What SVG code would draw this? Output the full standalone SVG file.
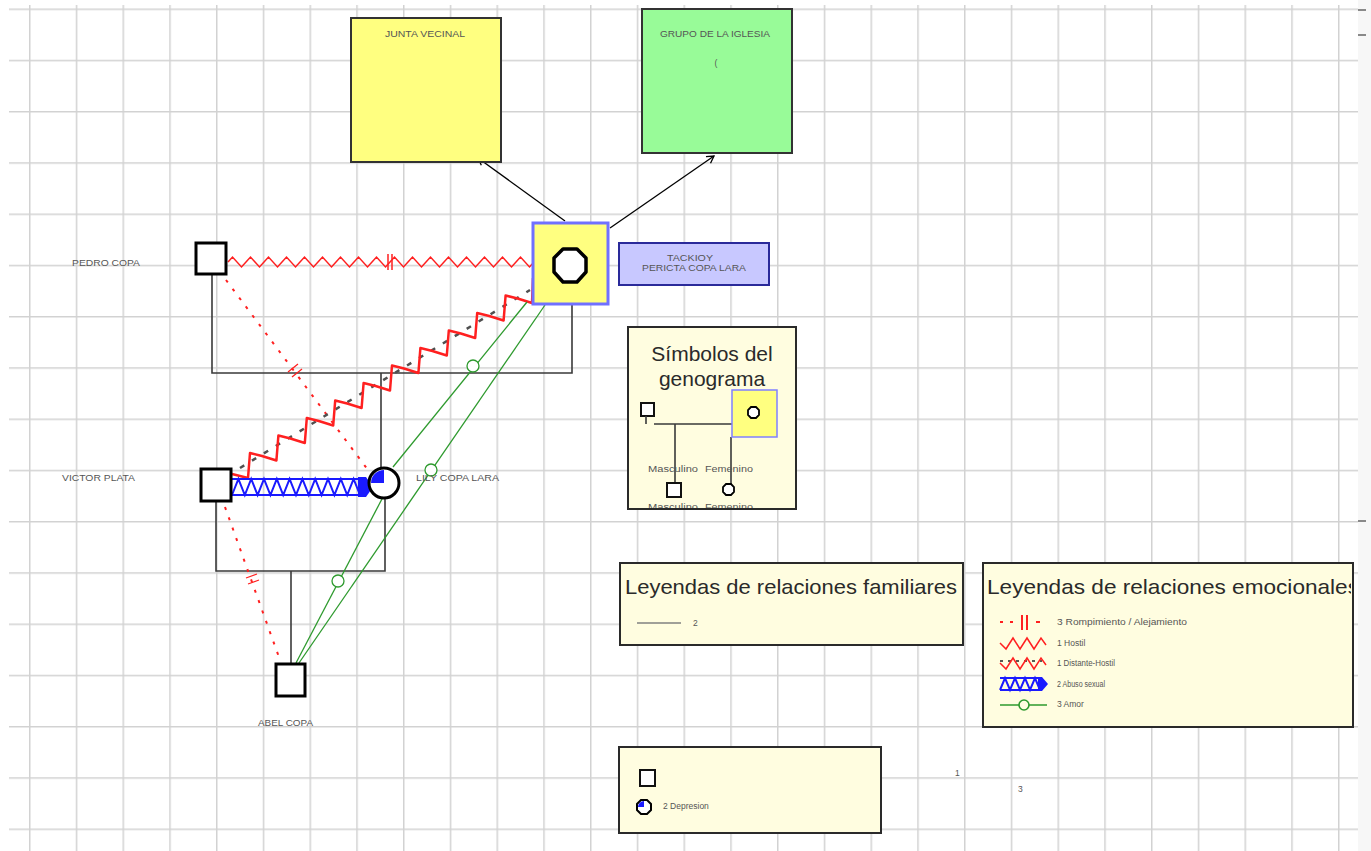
<svg xmlns="http://www.w3.org/2000/svg" width="1371" height="851" viewBox="0 0 1371 851">
<style>
.lbl{font-family:"Liberation Sans",Arial,sans-serif;font-size:8.5px;fill:#555}
.ttl{font-family:"Liberation Sans",Arial,sans-serif;font-size:21px;fill:#2a2a2a}
.fam{stroke:#3a3a3a;stroke-width:1.6;fill:none}
.node{stroke:#000;stroke-width:3;fill:#fff}
.red{stroke:#ff2020;fill:none}
.grn{stroke:#2e9a2e;stroke-width:1.3;fill:none}
.blu{stroke:#1a1aff;stroke-width:2;fill:none}
.leg{fill:#fffde0;stroke:#2a2a2a;stroke-width:2}
</style>
<defs>
<pattern id="grid" patternUnits="userSpaceOnUse" x="29" y="8.5" width="46.75" height="51.25">
<path d="M0.75,0V51.25M0,0.75H46.75" stroke="#d2d2d2" stroke-width="1.5" fill="none"/>
</pattern>
<marker id="arr" markerWidth="10" markerHeight="10" refX="8" refY="5" orient="auto" markerUnits="userSpaceOnUse">
<path d="M1,1L8,5L1,9" fill="none" stroke="#000" stroke-width="1.3"/>
</marker>
<clipPath id="clipE"><rect x="984" y="564" width="367" height="162"/></clipPath>
<clipPath id="clipS"><rect x="629" y="328" width="166" height="180"/></clipPath>
</defs>
<rect width="1371" height="851" fill="#fff"/>
<rect x="9" y="5" width="1349" height="846" fill="url(#grid)"/>
<rect x="1358" y="0" width="13" height="851" fill="#f7f7f7"/>
<path d="M1358,10H1366M1358,35H1366M1358,521H1366" stroke="#666" stroke-width="1.5"/>

<g id="connectors">
<!-- family lines -->
<path class="fam" d="M212,274V373H572V305"/>
<path class="fam" d="M381,373V467"/>
<path class="fam" d="M216,502V571H385V497"/>
<path class="fam" d="M291,571V663"/>
<!-- arrows to community boxes -->
<path d="M565,221L478,158" stroke="#000" stroke-width="1.3" fill="none" marker-end="url(#arr)"/>
<path d="M610,228L714,156" stroke="#000" stroke-width="1.3" fill="none" marker-end="url(#arr)"/>
<!-- Pedro - center hostile -->
<path class="red" stroke-width="1.5" d="M228,262l4.5,-5 9,10 4.5,-5 4.5,-5 9,10 4.5,-5 4.5,-5 9,10 4.5,-5 4.5,-5 9,10 4.5,-5 4.5,-5 9,10 4.5,-5 4.5,-5 9,10 4.5,-5 4.5,-5 9,10 4.5,-5 4.5,-5 9,10 4.5,-5 4.5,-5 9,10 4.5,-5 4.5,-5 9,10 4.5,-5 4.5,-5 9,10 4.5,-5 4.5,-5 9,10 4.5,-5 4.5,-5 9,10 4.5,-5 4.5,-5 9,10 4.5,-5 4.5,-5 9,10 4.5,-5 4.5,-5 9,10 4.5,-5 4.5,-5 9,10 4.5,-5 4.5,-5"/>
<path class="red" stroke-width="1.5" d="M388,254V270M392,254V270"/>
<!-- Pedro - Lily rompimiento -->
<path class="red" stroke-width="2" stroke-dasharray="3 8" d="M226,280L368,470"/>
<path class="red" stroke-width="1.3" d="M288,372L298,364M292,377L302,369"/>
<!-- Victor - Abel rompimiento -->
<path class="red" stroke-width="2" stroke-dasharray="3 8" d="M225,507L280,660"/>
<path class="red" stroke-width="1.3" d="M246,578L257,574M248,584L259,580"/>
<!-- Victor - center distante hostil -->
<path d="M240,468L530,290" stroke="#505050" stroke-width="2.5" stroke-dasharray="5 9" fill="none"/>
<path class="red" stroke-width="2.5" stroke-linejoin="round" d="M232,474L248,478L250,453L262,456L276.4,460.5L278.4,435.5L290.4,438.5L304.8,443L306.8,418L318.8,421L333.2,425.5L335.2,400.5L347.2,403.5L361.6,408L363.6,383L375.6,386L390,390.5L392,365.5L404,368.5L418.4,373L420.4,348L432.4,351L446.8,355.5L448.8,330.5L460.8,333.5L475.2,338L477.2,313L489.2,316L503.6,320.5L505.6,295.5L517.6,298.5L532,303L533,278"/>
<!-- Victor - Lily abuso -->
<path class="blu" d="M232,479H360M232,495H360"/>
<path class="blu" stroke-width="1.5" d="M232,495l6.4,-16 6.4,16 6.4,-16 6.4,16 6.4,-16 6.4,16 6.4,-16 6.4,16 6.4,-16 6.4,16 6.4,-16 6.4,16 6.4,-16 6.4,16 6.4,-16 6.4,16 6.4,-16 6.4,16 6.4,-16 6.4,16"/>
<polygon points="358,477 366,477 373,487 366,497 358,497" fill="#1a1aff"/>
<!-- love lines -->
<path class="grn" d="M393,467L527,302"/>
<circle cx="473" cy="366" r="6" fill="#fff" stroke="#2e9a2e" stroke-width="1.3"/>
<path class="grn" d="M299,663L545,305"/>
<circle cx="431" cy="470" r="6" fill="#fff" stroke="#2e9a2e" stroke-width="1.3"/>
<path class="grn" d="M296,663L383,497"/>
<circle cx="338" cy="581" r="6" fill="#fff" stroke="#2e9a2e" stroke-width="1.3"/>
</g>

<g id="junta-vecinal">
<rect x="351" y="18" width="150" height="144" fill="#ffff80" stroke="#333" stroke-width="2"/>
<text class="lbl" x="425" y="37" text-anchor="middle" font-size="8" textLength="80" lengthAdjust="spacingAndGlyphs">JUNTA VECINAL</text>
</g>
<g id="grupo-iglesia">
<rect x="642" y="9" width="150" height="144" fill="#98fb98" stroke="#333" stroke-width="2"/>
<text class="lbl" x="715" y="37" text-anchor="middle" font-size="8" textLength="110" lengthAdjust="spacingAndGlyphs">GRUPO DE LA IGLESIA</text>
<text class="lbl" x="716" y="66" text-anchor="middle" font-size="8">(</text>
</g>

<g id="pericta">
<rect x="533" y="223" width="75" height="81" fill="#ffff80" stroke="#7070ff" stroke-width="3"/>
<polygon points="563,249 577,249 586,258 586,272 577,282 563,282 554,272 554,258" fill="#fff" stroke="#000" stroke-width="3.5" stroke-linejoin="round"/>
<rect x="619" y="243" width="150" height="42" fill="#c8c8ff" stroke="#2a2a9a" stroke-width="2"/>
<text class="lbl" x="694" y="271" text-anchor="middle" textLength="104" lengthAdjust="spacingAndGlyphs">PERICTA COPA LARA</text>
<text class="lbl" x="690" y="261" text-anchor="middle" font-size="7" textLength="46" lengthAdjust="spacingAndGlyphs">TACKIOY</text>
</g>

<g id="pedro-copa">
<rect x="196" y="243" width="30" height="31" class="node"/>
<text class="lbl" x="72" y="266" textLength="68" lengthAdjust="spacingAndGlyphs">PEDRO COPA</text>
</g>
<g id="victor-plata">
<rect x="201" y="469" width="30" height="32" class="node"/>
<text class="lbl" x="62" y="481" textLength="73" lengthAdjust="spacingAndGlyphs">VICTOR PLATA</text>
</g>
<g id="lily-copa-lara">
<circle cx="384" cy="483" r="15" class="node"/>
<path d="M384,483V470A13,13 0 0 0 371,483Z" fill="#1a1aff"/>
<text class="lbl" x="416" y="481" textLength="83" lengthAdjust="spacingAndGlyphs">LILY COPA LARA</text>
</g>
<g id="abel-copa">
<rect x="276" y="664" width="29" height="32" class="node"/>
<text class="lbl" x="258" y="726" textLength="55" lengthAdjust="spacingAndGlyphs">ABEL COPA</text>
</g>

<g id="simbolos">
<rect x="628" y="327" width="168" height="182" class="leg"/>
<text class="ttl" x="712" y="361" text-anchor="middle">Símbolos del</text>
<text class="ttl" x="712" y="386" text-anchor="middle">genograma</text>
<rect x="641" y="403" width="13" height="13" fill="#fff" stroke="#111" stroke-width="2"/>
<path d="M646,416V424M654,424H732M675,424V484M731,437V484" stroke="#3a3a3a" stroke-width="1.6" fill="none"/>
<rect x="732" y="390" width="45" height="47" fill="#ffff80" stroke="#8080ff" stroke-width="1.5"/>
<polygon points="751,407 756,407 759,410 759,415 756,418 751,418 748,415 748,410" fill="#fff" stroke="#000" stroke-width="1.8"/>
<rect x="667" y="483" width="14" height="14" fill="#fff" stroke="#111" stroke-width="2"/>
<polygon points="726,484 731,484 734,487 734,492 731,495 726,495 723,492 723,487" fill="#fff" stroke="#000" stroke-width="1.8"/>
<g clip-path="url(#clipS)">
<text class="lbl" x="648" y="472" font-size="8" textLength="50" lengthAdjust="spacingAndGlyphs">Masculino</text>
<text class="lbl" x="705" y="472" font-size="8" textLength="48" lengthAdjust="spacingAndGlyphs">Femenino</text>
<text class="lbl" x="648" y="510" font-size="8" textLength="50" lengthAdjust="spacingAndGlyphs">Masculino</text>
<text class="lbl" x="705" y="510" font-size="8" textLength="48" lengthAdjust="spacingAndGlyphs">Femenino</text>
</g>
</g>

<g id="leyenda-familiares">
<rect x="620" y="563" width="343" height="82" class="leg"/>
<text class="ttl" x="625" y="594" textLength="332" lengthAdjust="spacingAndGlyphs">Leyendas de relaciones familiares</text>
<path d="M637,623H681" stroke="#808080" stroke-width="1.5"/>
<text class="lbl" x="693" y="626">2</text>
</g>

<g id="leyenda-emocionales">
<rect x="983" y="563" width="370" height="164" class="leg"/>
<g clip-path="url(#clipE)">
<text class="ttl" x="987" y="594" textLength="372" lengthAdjust="spacingAndGlyphs">Leyendas de relaciones emocionales</text>
</g>
<path class="red" stroke-width="2" d="M1000,622H1003M1010,622H1013M1036,622H1040M1022,615V630M1027,615V630"/>
<text class="lbl" x="1057" y="625" textLength="130" lengthAdjust="spacingAndGlyphs">3 Rompimiento / Alejamiento</text>
<path class="red" stroke-width="1.5" d="M1000,643l6,6 7,-11 7,11 7,-11 7,11 7,-11 5,7"/>
<text class="lbl" x="1057" y="646">1 Hostil</text>
<path d="M1000,661H1042" stroke="#222" stroke-width="1.5" stroke-dasharray="3 5"/>
<path class="red" stroke-width="1.5" d="M1000,663l6,6 7,-11 7,11 7,-11 7,11 7,-11 5,7"/>
<text class="lbl" x="1057" y="666" textLength="58" lengthAdjust="spacingAndGlyphs">1 Distante-Hostil</text>
<path class="blu" d="M1000,678H1040M1000,690H1040"/>
<path class="blu" stroke-width="1.3" d="M1000,690l5,-12 5,12 5,-12 5,12 5,-12 5,12 5,-12 5,12"/>
<polygon points="1038,677 1042,677 1048,684 1042,691 1038,691" fill="#1a1aff"/>
<text class="lbl" x="1057" y="687" textLength="48" lengthAdjust="spacingAndGlyphs">2 Abuso sexual</text>
<path class="grn" stroke-width="1.6" d="M1000,705H1047"/>
<circle cx="1024" cy="705" r="5" fill="#fffde0" stroke="#2e9a2e" stroke-width="1.6"/>
<text class="lbl" x="1057" y="707">3 Amor</text>
</g>

<g id="leyenda-depresion">
<rect x="619" y="747" width="262" height="86" class="leg"/>
<rect x="640" y="770" width="15" height="16" fill="#fff" stroke="#111" stroke-width="2"/>
<polygon points="641,800 647,800 651,804 651,810 647,814 641,814 637,810 637,804" fill="#fff" stroke="#000" stroke-width="2"/>
<path d="M644,807V801A6,6 0 0 0 638,807Z" fill="#1a1aff"/>
<text class="lbl" x="663" y="809">2 Depresion</text>
</g>

<g id="numeros">
<text class="lbl" x="955" y="776" fill="#a05050">1</text>
<text class="lbl" x="1018" y="792">3</text>
</g>
</svg>
